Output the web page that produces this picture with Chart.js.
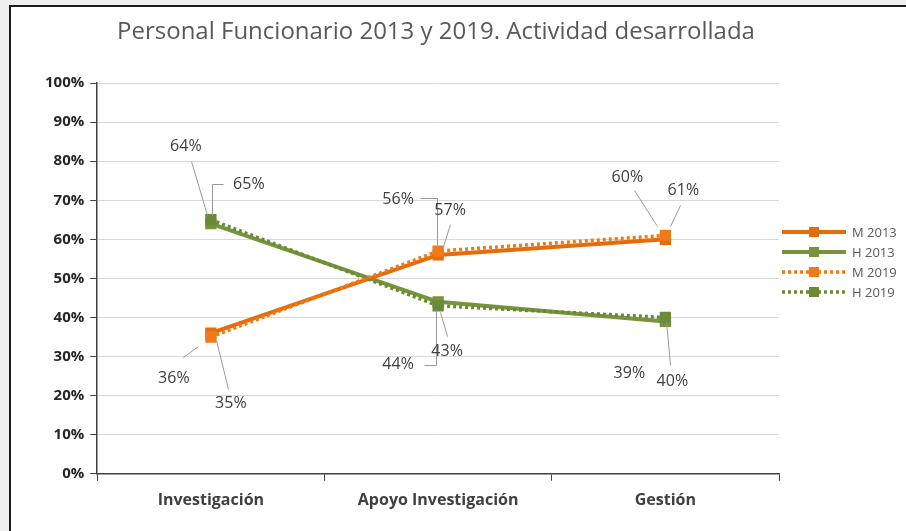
<!DOCTYPE html>
<html>
<head>
<meta charset="utf-8">
<script src="https://cdn.jsdelivr.net/npm/chart.js@4.4.1/dist/chart.umd.min.js"></script>
<style>
    html, body { margin: 0; padding: 0; background: #efefef; }
    #wrap { position: relative; width: 906px; height: 531px; overflow: hidden; }
    #frame {
        position: absolute; left: 9px; top: 5px; right: 0; bottom: 0;
        background: #ffffff;
        border-left: 2px solid #1a1a1a;
        border-top: 2px solid #1a1a1a;
    }
    #chart { position: absolute; left: 0; top: 0; }
</style>
</head>
<body>
<div id="wrap">
    <div id="frame"></div>
    <canvas id="chart" width="906" height="531"></canvas>
</div>
<script>
// Chart values
const chartTitle = 'Personal Funcionario 2013 y 2019. Actividad desarrollada';
const categories = ['Investigación', 'Apoyo Investigación', 'Gestión'];
const seriesNames = ['M 2013', 'H 2013', 'M 2019', 'H 2019'];
const m2013 = [36, 56, 60];
const h2013 = [64, 44, 39];
const m2019 = [35, 57, 61];
const h2019 = [65, 43, 40];

const ORANGE = '#e46c0a';
const GREEN = '#77933c';
const ORANGE_2019 = '#f07a1a';
const GREEN_2019 = '#6a8a36';
const FONT = "'Open Sans', 'Liberation Sans', sans-serif";

// Label placement per point: label centre offset from the marker and the leader line path
const labelLayout = [
    [ // M 2013
        { dx: -37, dy: 45, leader: [[-13, 13], [-28, 24]] },
        { dx: -40, dy: -56, leader: [[-1, -8], [-1, -57], [-18, -57]] },
        { dx: -38, dy: -62, leader: [[-8, -13], [-31, -49]] }
    ],
    [ // H 2013
        { dx: -25, dy: -77, leader: [[-4, -9], [-20, -63]] },
        { dx: -40, dy: 63, leader: [[-2, 7], [-2, 63], [-14, 63]] },
        { dx: -36, dy: 52, leader: null }
    ],
    [ // M 2019
        { dx: 20, dy: 66, leader: [[5, 3], [17, 52]] },
        { dx: 12, dy: -41, leader: [[5, -5], [12, -27]] },
        { dx: 18, dy: -45, leader: [[5, -9], [15, -30]] }
    ],
    [ // H 2019
        { dx: 38, dy: -35, leader: [[1, -5], [1, -36], [12, -36]] },
        { dx: 9, dy: 46, leader: [[2, 6], [9, 30]] },
        { dx: 7, dy: 64, leader: [[1, 4], [5, 48]] }
    ]
];

Chart.defaults.font.family = FONT;

// Title, legend and point labels drawn by hand so they sit where the original has them
const decorations = {
    id: 'decorations',
    afterDatasetsDraw(chart) {
        const ctx = chart.ctx;
        ctx.save();

        // title
        ctx.fillStyle = '#595959';
        ctx.font = '24px ' + FONT;
        ctx.textAlign = 'center';
        ctx.textBaseline = 'middle';
        ctx.fillText(chartTitle, 436, 32);

        // point labels with leader lines
        ctx.font = '16px ' + FONT;
        chart.data.datasets.forEach((ds, di) => {
            const meta = chart.getDatasetMeta(di);
            meta.data.forEach((pt, i) => {
                const lay = labelLayout[di][i];
                if (lay.leader) {
                    ctx.strokeStyle = '#9a9a9a';
                    ctx.lineWidth = 1;
                    ctx.beginPath();
                    lay.leader.forEach((p, k) => {
                        const x = Math.round(pt.x + p[0]) + 0.5;
                        const y = Math.round(pt.y + p[1]) + 0.5;
                        if (k === 0) ctx.moveTo(x, y); else ctx.lineTo(x, y);
                    });
                    ctx.stroke();
                }
                ctx.fillStyle = '#404040';
                ctx.fillText(ds.data[i] + '%', pt.x + lay.dx, pt.y + lay.dy);
            });
        });

        // legend
        ctx.font = '13px ' + FONT;
        ctx.textAlign = 'left';
        chart.data.datasets.forEach((ds, di) => {
            const y = 232 + di * 20;
            ctx.strokeStyle = ds.borderColor;
            ctx.lineWidth = ds.borderWidth;
            ctx.setLineDash(ds.borderDash || []);
            ctx.beginPath();
            ctx.moveTo(782, y);
            ctx.lineTo(846, y);
            ctx.stroke();
            ctx.setLineDash([]);
            ctx.fillStyle = ds.pointBackgroundColor;
            ctx.fillRect(809, y - 5, 10, 10);
            ctx.fillStyle = '#595959';
            ctx.fillText(ds.label, 852, y + 1);
        });

        ctx.restore();
    }
};

const makeSeries = (label, data, color, dashed, order) => ({
    label: label,
    data: data,
    borderColor: color,
    backgroundColor: color,
    pointBackgroundColor: color,
    pointBorderColor: color,
    borderWidth: dashed ? 3.5 : 4,
    borderDash: dashed ? [3, 3] : [],
    pointStyle: 'rect',
    pointRadius: 8,
    pointBorderWidth: 0,
    tension: 0,
    order: order
});

new Chart(document.getElementById('chart'), {
    type: 'line',
    data: {
        labels: categories,
        datasets: [
            makeSeries(seriesNames[0], m2013, ORANGE, false, 1),
            makeSeries(seriesNames[1], h2013, GREEN, false, 1),
            makeSeries(seriesNames[2], m2019, ORANGE_2019, true, 0),
            makeSeries(seriesNames[3], h2019, GREEN_2019, true, 0)
        ]
    },
    options: {
        responsive: false,
        animation: false,
        devicePixelRatio: 1,
        layout: {
            padding: { left: 39, right: 127, top: 83, bottom: 11 }
        },
        plugins: {
            legend: { display: false },
            title: { display: false },
            tooltip: { enabled: false }
        },
        scales: {
            x: {
                offset: true,
                grid: {
                    offset: true,
                    drawOnChartArea: false,
                    tickLength: 7,
                    tickColor: '#404040'
                },
                border: { color: '#404040', width: 1.5 },
                ticks: {
                    color: '#404040',
                    padding: 10,
                    font: { size: 16, weight: 'bold' }
                }
            },
            y: {
                min: 0,
                max: 100,
                grid: {
                    color: '#d9d9d9',
                    tickLength: 7,
                    tickColor: '#404040'
                },
                border: { color: '#404040', width: 1.5 },
                ticks: {
                    stepSize: 10,
                    color: '#262626',
                    padding: 6,
                    font: { size: 15, weight: 'bold' },
                    callback: value => value + '%'
                }
            }
        }
    },
    plugins: [decorations]
});
</script>
</body>
</html>
